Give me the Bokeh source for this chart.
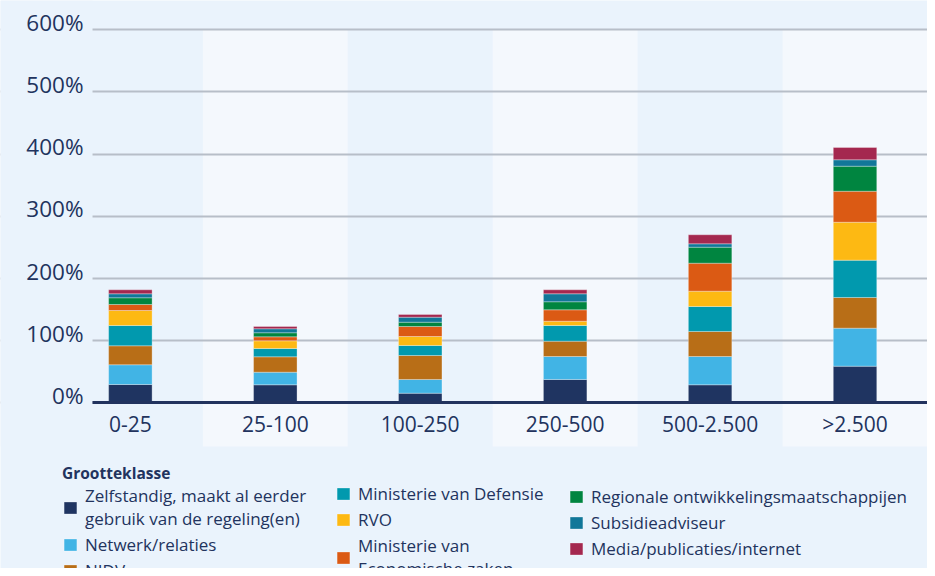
from bokeh.plotting import figure
from bokeh.models import (ColumnDataSource, Range1d, FixedTicker, Legend, LegendItem,
                          LinearAxis, Grid, BoxAnnotation)
from bokeh.embed import file_html
from bokeh.resources import INLINE

# ---------------- data ----------------
categories = ["0-25", "25-100", "100-250", "250-500", "500-2.500", ">2.500"]

zelfstandig = [29.7, 29.2, 15.7, 37.8, 29.2, 59.1]
netwerk     = [31.7, 20.3, 22.1, 36.9, 45.5, 61.1]
nidv        = [30.5, 24.7, 38.5, 24.6, 40.2, 49.3]
defensie    = [32.6, 13.4, 16.1, 25.2, 40.1, 59.9]
rvo         = [24.1, 12.3, 14.4,  6.9, 24.6, 61.0]
ez          = [ 9.6,  6.4, 16.1, 18.3, 45.0, 49.8]
regionaal   = [10.8,  6.5,  6.9, 12.9, 25.7, 40.2]
subsidie    = [ 6.4,  6.4,  8.0, 12.8,  5.4, 10.3]
media       = [ 6.4,  3.7,  4.4,  6.4, 14.5, 19.7]

series_labels = [
    "Zelfstandig, maakt al eerder\ngebruik van de regeling(en)",
    "Netwerk/relaties",
    "NIDV",
    "Ministerie van Defensie",
    "RVO",
    "Ministerie van\nEconomische zaken",
    "Regionale ontwikkelingsmaatschappijen",
    "Subsidieadviseur",
    "Media/publicaties/internet",
]
series_colors = ["#1F3461", "#41B4E5", "#B86E17", "#0199AE", "#FDB913",
                 "#DB5A14", "#008540", "#117799", "#A4284F"]

y_ticks = [0, 100, 200, 300, 400, 500, 600]
y_tick_labels = ["0%", "100%", "200%", "300%", "400%", "500%", "600%"]
legend_title = "Grootteklasse"

# ---------------- styles / layout ----------------
BG = "#EAF3FC"
BAND = "#F4F8FD"
NAVY = "#22335E"
GRID = "#B7BEC8"
FONT = "Open Sans"

X0, X1 = -0.896, 5.5        # whole canvas is the frame
PLOT_LEFT = -0.261          # left edge of the chart area
Y0, Y1 = -265.9, 646.6
BAND_BOTTOM = -69.9
LABEL_SHIFT = 12            # y tick labels sit just above their grid line

series = [zelfstandig, netwerk, nidv, defensie, rvo, ez, regionaal, subsidie, media]
keys = ["s%d" % i for i in range(len(series))]
data = {"x": list(range(len(categories)))}
for k, vals in zip(keys, series):
    data[k] = vals
src = ColumnDataSource(data)

p = figure(width=927, height=568,
           x_range=Range1d(X0, X1), y_range=Range1d(Y0, Y1),
           output_backend="svg", toolbar_location=None, y_axis_location=None,
           min_border_left=0, min_border_right=0, min_border_top=0, min_border_bottom=0,
           background_fill_color=BG, border_fill_color=BG, outline_line_color=None)
p.grid.visible = False

# alternating lighter column bands
band_x = [i for i in range(len(categories)) if i % 2 == 1]
p.vbar(x=band_x, width=1.0, bottom=BAND_BOTTOM, top=max(y_ticks),
       fill_color=BAND, line_color=None, level="image")

# horizontal grid lines, starting at the chart area's left edge
p.add_layout(Grid(dimension=1, ticker=FixedTicker(ticks=y_ticks),
                  grid_line_color=GRID, grid_line_width=2))
p.add_layout(BoxAnnotation(left=X0, right=PLOT_LEFT, bottom=BAND_BOTTOM, top=Y1,
                           fill_color=BG, fill_alpha=1, line_color=None, level="glyph"))

renderers = p.vbar_stack(keys, x="x", width=0.3, source=src,
                         fill_color=series_colors, line_color="white",
                         line_alpha=0.3, line_width=1)

# x axis at y = 0
xa = p.xaxis[0]
xa.ticker = FixedTicker(ticks=list(range(len(categories))))
xa.major_label_overrides = {i: c for i, c in enumerate(categories)}
xa.fixed_location = 0
xa.bounds = (PLOT_LEFT, X1)
xa.axis_line_color = NAVY
xa.axis_line_width = 3
xa.major_tick_line_color = None
xa.minor_tick_line_color = None
xa.major_label_text_font = FONT
xa.major_label_text_font_size = "21px"
xa.major_label_text_color = NAVY
xa.major_label_standoff = 1

# y labels on a slightly shifted range so they sit just above the lines
p.extra_y_ranges = {"lab": Range1d(Y0 - LABEL_SHIFT, Y1 - LABEL_SHIFT)}
ya = LinearAxis(y_range_name="lab", ticker=FixedTicker(ticks=y_ticks), fixed_location=PLOT_LEFT)
ya.major_label_overrides = {t: l for t, l in zip(y_ticks, y_tick_labels)}
ya.axis_line_color = None
ya.major_tick_line_color = None
ya.minor_tick_line_color = None
ya.major_tick_out = 0
ya.major_tick_in = 0
ya.major_label_standoff = 9
ya.major_label_text_font = FONT
ya.major_label_text_font_size = "22.5px"
ya.major_label_text_color = NAVY
p.add_layout(ya, "left")

def make_legend(idxs, loc, title=None):
    items = [LegendItem(label=series_labels[i], renderers=[renderers[i]]) for i in idxs]
    lg = Legend(items=items, location=loc, orientation="vertical",
                label_text_font=FONT, label_text_font_size="17px", label_text_color=NAVY,
                glyph_width=16, glyph_height=15, label_standoff=7, label_height=20,
                spacing=3, padding=0, margin=0,
                border_line_color=None, background_fill_alpha=0)
    if title:
        lg.title = title
        lg.title_text_font = FONT
        lg.title_text_font_size = "15.5px"
        lg.title_text_font_style = "bold"
        lg.title_text_color = NAVY
        lg.title_standoff = 0
    p.add_layout(lg)

make_legend([0, 1, 2], (62, -14), legend_title)
make_legend([3, 4, 5], (335, -12))
make_legend([6, 7, 8], (568, 8))

open("out.html", "w").write(file_html(p, INLINE))
